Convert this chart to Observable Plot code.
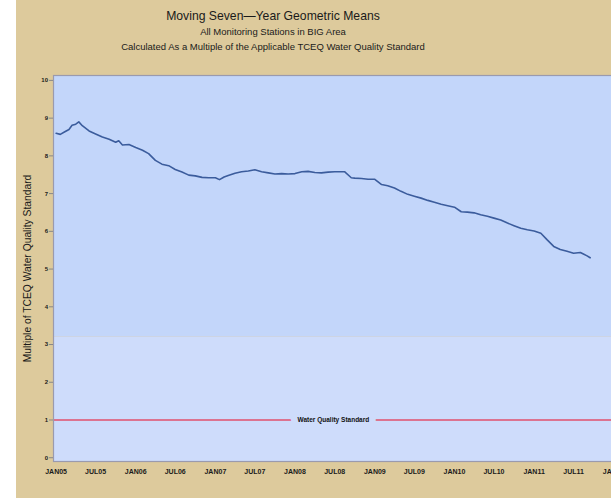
<!DOCTYPE html>
<html><head><meta charset="utf-8">
<script src="https://cdn.jsdelivr.net/npm/d3@7"></script>
<script src="https://cdn.jsdelivr.net/npm/@observablehq/plot@0.6"></script>
<style>
html,body{margin:0;padding:0;background:#fff;overflow:hidden;width:611px;height:498px;}
#wrap{position:absolute;left:16px;top:0;width:640px;height:498px;background:#ddca9c;overflow:hidden;font-family:"Liberation Sans",Arial,sans-serif;color:#1a1a1a;}
#titles{width:514px;text-align:center;padding-top:9px;height:53px;}
.t1{font-size:12.2px;line-height:15px;}
.t2{font-size:9.5px;line-height:15px;}
#chart svg{max-width:none;display:block;}
</style></head>
<body><div id="wrap">
<div id="titles">
<div class="t1">Moving Seven—Year Geometric Means</div>
<div class="t2">All Monitoring Stations in BIG Area</div>
<div class="t2">Calculated As a Multiple of the Applicable TCEQ Water Quality Standard</div>
</div>
<div id="chart"></div>
</div>
<script>
// Series: moving seven-year geometric mean (multiple of standard)
const dates = ["2005-01-01","2005-01-20","2005-02-10","2005-03-01","2005-03-15","2005-04-01","2005-04-15","2005-05-01","2005-06-01","2005-07-01","2005-08-01","2005-09-01","2005-10-01","2005-10-15","2005-11-01","2005-12-01",
"2006-01-01","2006-02-01","2006-03-01","2006-04-01","2006-05-01","2006-06-01","2006-07-01","2006-08-01","2006-09-01","2006-10-01","2006-11-01","2006-12-01",
"2007-01-01","2007-01-20","2007-02-10","2007-03-01","2007-04-01","2007-05-01","2007-06-01","2007-07-01","2007-08-01","2007-09-01","2007-10-01","2007-11-01","2007-12-01",
"2008-01-01","2008-02-01","2008-03-01","2008-04-01","2008-05-01","2008-06-01","2008-07-01","2008-08-15","2008-09-15","2008-10-01","2008-11-01","2008-12-01",
"2009-01-01","2009-02-01","2009-03-01","2009-04-01","2009-05-01","2009-06-01","2009-07-01","2009-08-01","2009-09-01","2009-10-01","2009-11-01","2009-12-01",
"2010-01-01","2010-02-01","2010-03-01","2010-04-01","2010-05-01","2010-06-01","2010-07-01","2010-08-01","2010-09-01","2010-10-01","2010-11-01","2010-12-01",
"2011-01-01","2011-02-01","2011-03-01","2011-04-01","2011-05-01","2011-06-01","2011-07-01","2011-08-01","2011-08-15","2011-09-01","2011-09-15"];
const values = [8.60,8.57,8.64,8.70,8.81,8.84,8.90,8.80,8.66,8.58,8.50,8.44,8.36,8.40,8.29,8.30,
8.22,8.15,8.06,7.88,7.78,7.74,7.64,7.57,7.49,7.47,7.43,7.42,
7.42,7.37,7.44,7.48,7.54,7.58,7.60,7.63,7.58,7.55,7.52,7.53,7.52,
7.53,7.58,7.59,7.56,7.55,7.57,7.58,7.58,7.42,7.41,7.40,7.38,
7.38,7.24,7.21,7.15,7.06,6.98,6.93,6.88,6.82,6.77,6.72,6.68,
6.64,6.52,6.51,6.49,6.44,6.40,6.35,6.30,6.22,6.15,6.08,6.04,
6.01,5.95,5.78,5.60,5.52,5.47,5.42,5.44,5.40,5.35,5.30];

const xTickDates = ["2005-01-01","2005-07-01","2006-01-01","2006-07-01","2007-01-01","2007-07-01","2008-01-01","2008-07-01","2009-01-01","2009-07-01","2010-01-01","2010-07-01","2011-01-01","2011-07-01","2012-01-01"];
const xTickLabels = ["JAN05","JUL05","JAN06","JUL06","JAN07","JUL07","JAN08","JUL08","JAN09","JUL09","JAN10","JUL10","JAN11","JUL11","JAN12"];
const yTicks = [0,1,2,3,4,5,6,7,8,9,10];
const xDomain = ["2004-12-20","2012-02-24"];
const yDomain = [-0.1, 10.13];
const standardLevel = [1];
const standardLabel = ["Water Quality Standard"];
const standardLabelDate = ["2008-06-25"];
const bandSplit = [3.2];

const data = dates.map((d,i)=>({date:new Date(d), value:values[i]}));
const labelMap = new Map(xTickDates.map((d,i)=>[+new Date(d), xTickLabels[i]]));
const upperColor = "#c3d6fa", lowerColor = "#cedcfb";
const bands = [
  {x1:new Date(xDomain[0]), x2:new Date(xDomain[1]), y1:yDomain[0], y2:bandSplit[0], fill:lowerColor},
  {x1:new Date(xDomain[0]), x2:new Date(xDomain[1]), y1:bandSplit[0], y2:yDomain[1], fill:upperColor}
];

const chart = Plot.plot({
  width: 640, height: 436,
  marginLeft: 37, marginRight: 31, marginTop: 13, marginBottom: 37,
  style: {background: "transparent", fontFamily: '"Liberation Sans", Arial, sans-serif', color: "#1a1a1a"},
  x: {type: "utc", domain: xDomain.map(d=>new Date(d))},
  y: {domain: yDomain},
  marks: [
    Plot.rect(bands, {x1:"x1", x2:"x2", y1:"y1", y2:"y2", fill:"fill"}),
    Plot.ruleY(standardLevel, {stroke:"#e0506c", strokeWidth:1.5}),
    Plot.text(standardLabel, {x: standardLabelDate.map(d=>new Date(d)), y: standardLevel, text: d=>d, fill:"#111", stroke: lowerColor, strokeWidth: 14, fontWeight:"bold", fontSize: 6.5}),
    Plot.line(data, {x:"date", y:"value", stroke:"#3b5c9c", strokeWidth:1.6}),
    Plot.frame({stroke:"#9a9aae", strokeWidth:1.2}),
    Plot.axisY({ticks: yTicks, tickSize: 4, tickPadding: 1.5, fontSize: 6, fontWeight: "bold", stroke:"#888", label: "Multiple of TCEQ Water Quality Standard", labelArrow: "none", labelAnchor: "center", labelOffset: 30}),
    Plot.axisX({ticks: xTickDates.map(d=>new Date(d)), tickFormat: d=>labelMap.get(+d), tickSize: 0, tickPadding: 8, fontSize: 7, fontWeight: "bold", label: null})
  ]
});
chart.querySelectorAll('[aria-label="y-axis label"] text, [aria-label="y-axis label"]').forEach(e=>{e.setAttribute("font-size","10.3px");e.setAttribute("font-weight","normal");});
document.getElementById("chart").appendChild(chart);
</script>
</body></html>
